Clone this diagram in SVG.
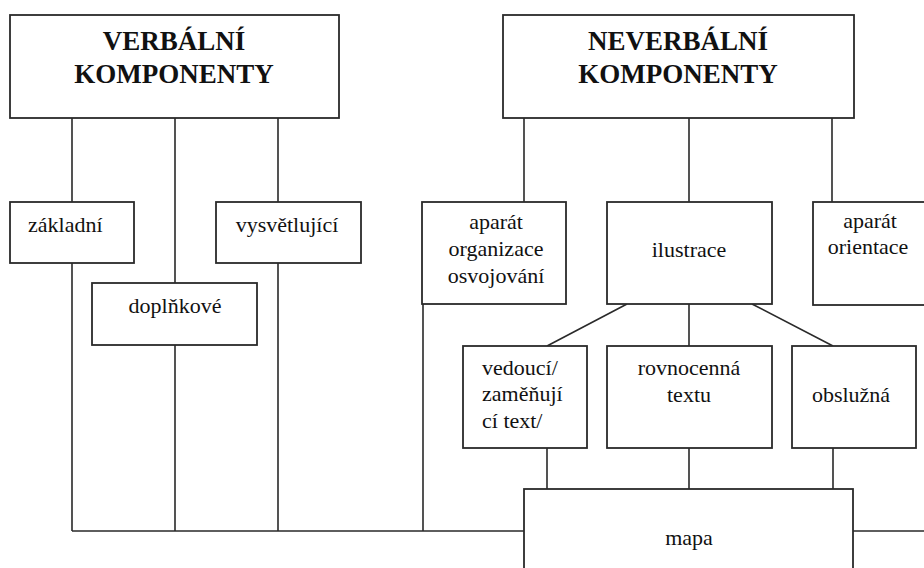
<svg xmlns="http://www.w3.org/2000/svg" width="924" height="568" viewBox="0 0 924 568" font-family="Liberation Serif, serif">
<style>
.box{fill:#fff;stroke:#2a2a2a;stroke-width:1.8}
.ln{stroke:#2a2a2a;stroke-width:1.6;fill:none}
.t{font-size:22px;fill:#111}
.h{font-size:27px;font-weight:bold;text-anchor:middle;fill:#111}
.m{text-anchor:middle}
</style>
<rect width="924" height="568" fill="#fff"/>
<g id="connectors">
<path class="ln" d="M72 118V202M72 263V531M175 118V283M175 345V531M278 118V202M278 263V531M524 118V202M689 118V202M832 118V202M423 304V531M72 531H524M853 531H924M627 304L547 346M752 304L833 346M689 304V346M547 448V489M689 448V489M833 448V489"/>
</g>
<g id="verbalni"><rect class="box" x="10" y="15" width="329" height="103"/><text class="h" x="174" y="50">VERBÁLNÍ</text><text class="h" x="174" y="83">KOMPONENTY</text></g>
<g id="neverbalni"><rect class="box" x="503" y="15" width="351" height="103"/><text class="h" x="678" y="50">NEVERBÁLNÍ</text><text class="h" x="678" y="83">KOMPONENTY</text></g>
<g id="zakladni"><rect class="box" x="10" y="202" width="124" height="61"/><text class="t" x="28" y="232">základní</text></g>
<g id="vysvetlujici"><rect class="box" x="216" y="202" width="145" height="61"/><text class="t m" x="287" y="232">vysvětlující</text></g>
<g id="doplnkove"><rect class="box" x="92" y="283" width="165" height="62"/><text class="t m" x="175" y="313">doplňkové</text></g>
<g id="aparat-organizace"><rect class="box" x="422" y="202" width="144" height="102"/><text class="t m" x="496" y="229">aparát</text><text class="t m" x="496" y="256">organizace</text><text class="t m" x="496" y="283">osvojování</text></g>
<g id="ilustrace"><rect class="box" x="607" y="202" width="165" height="102"/><text class="t m" x="689" y="257">ilustrace</text></g>
<g id="aparat-orientace"><rect class="box" x="813" y="202" width="114" height="103"/><text class="t m" x="870" y="228">aparát</text><text class="t m" x="868" y="254">orientace</text></g>
<g id="vedouci"><rect class="box" x="463" y="346" width="124" height="102"/><text class="t" x="482" y="375">vedoucí/</text><text class="t" x="482" y="401">zaměňují</text><text class="t" x="482" y="428">cí text/</text></g>
<g id="rovnocenna"><rect class="box" x="607" y="346" width="165" height="102"/><text class="t m" x="689" y="375">rovnocenná</text><text class="t m" x="689" y="402">textu</text></g>
<g id="obsluzna"><rect class="box" x="792" y="346" width="124" height="102"/><text class="t m" x="851" y="402">obslužná</text></g>
<g id="mapa"><rect class="box" x="524" y="489" width="329" height="90"/><text class="t m" x="689" y="545">mapa</text></g>
</svg>
